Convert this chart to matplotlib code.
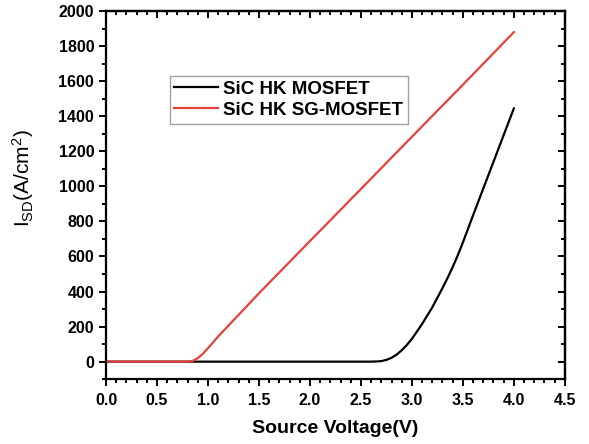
import matplotlib
matplotlib.use("Agg")
import matplotlib.pyplot as plt
from matplotlib.ticker import MultipleLocator

plt.rcParams["font.family"] = ["Liberation Sans", "DejaVu Sans"]
plt.rcParams["font.weight"] = "bold"
plt.rcParams["mathtext.default"] = "regular"

v_red = [0.0, 0.5, 0.8, 0.85, 0.9, 0.95, 1.0, 1.05, 1.1, 1.2, 1.5, 2.0, 2.5, 3.0, 3.5, 4.0]
i_red = [0, 0, 0, 4, 20, 45, 77, 110, 144, 205, 390, 688, 985, 1283, 1580, 1880]

v_blk = [0.0, 1.0, 2.0, 2.6, 2.65, 2.7, 2.75, 2.8, 2.85, 2.9, 2.95, 3.0, 3.1, 3.2,
         3.3, 3.35, 3.4, 3.45, 3.5, 3.6, 3.7, 3.8, 3.9, 4.0]
i_blk = [0, 0, 0, 0, 1, 3, 10, 22, 40, 65, 95, 130, 215, 310,
         420, 478, 540, 607, 680, 835, 988, 1140, 1293, 1445]

labels = ["SiC HK MOSFET", "SiC HK SG-MOSFET"]

fig = plt.figure(figsize=(5.89, 4.44), dpi=100)
ax = fig.add_axes([0.18, 0.146, 0.779, 0.829])

ax.plot(v_blk, i_blk, color="black", lw=1.6, label=labels[0])
ax.plot(v_red, i_red, color="#e8413c", lw=1.6, label=labels[1])

ax.set_xlim(0, 4.5)
ax.set_ylim(-100, 2000)
ax.xaxis.set_major_locator(MultipleLocator(0.5))
ax.xaxis.set_minor_locator(MultipleLocator(0.1))
ax.yaxis.set_major_locator(MultipleLocator(200))
ax.yaxis.set_minor_locator(MultipleLocator(100))
ax.xaxis.set_major_formatter(matplotlib.ticker.FormatStrFormatter("%.1f"))

for s in ax.spines.values():
    s.set_linewidth(1.6)

ax.tick_params(which="both", left=True, bottom=True, top=False, right=False,
               direction="out", width=1.4, labelsize=11.5)
ax.tick_params(which="major", length=5)
ax.tick_params(which="minor", length=3)
ax.tick_params(axis="x", pad=5)

# inward ticks on top and right
sec_x = ax.secondary_xaxis("top")
sec_x.xaxis.set_major_locator(MultipleLocator(0.5))
sec_x.xaxis.set_minor_locator(MultipleLocator(0.1))
sec_x.tick_params(which="both", direction="in", width=1.4, labeltop=False)
sec_x.tick_params(which="major", length=5)
sec_x.tick_params(which="minor", length=3)
sec_x.spines["top"].set_linewidth(1.6)
sec_y = ax.secondary_yaxis("right")
sec_y.yaxis.set_major_locator(MultipleLocator(200))
sec_y.yaxis.set_minor_locator(MultipleLocator(100))
sec_y.tick_params(which="both", direction="in", width=1.4, labelright=False)
sec_y.tick_params(which="major", length=5)
sec_y.tick_params(which="minor", length=3)
sec_y.spines["right"].set_linewidth(1.6)

for t in ax.get_xticklabels() + ax.get_yticklabels():
    t.set_fontweight("bold")

ax.set_xlabel("Source Voltage(V)", fontsize=14, fontweight="bold")
ax.xaxis.set_label_coords(0.5, -0.112)
ax.set_ylabel(r"I$_{SD}$(A/cm$^2$)", fontsize=15)
ax.yaxis.set_label_coords(-0.152, 0.545)

leg = ax.legend(loc="upper left", bbox_to_anchor=(0.139, 0.823), borderaxespad=0,
                fancybox=False, edgecolor="#888888", handlelength=2.3,
                handletextpad=0.3, borderpad=0.25, labelspacing=0.2,
                prop={"size": 13.5, "weight": "bold"})
leg.get_frame().set_linewidth(1.0)

fig.savefig("out.png", dpi=100)
